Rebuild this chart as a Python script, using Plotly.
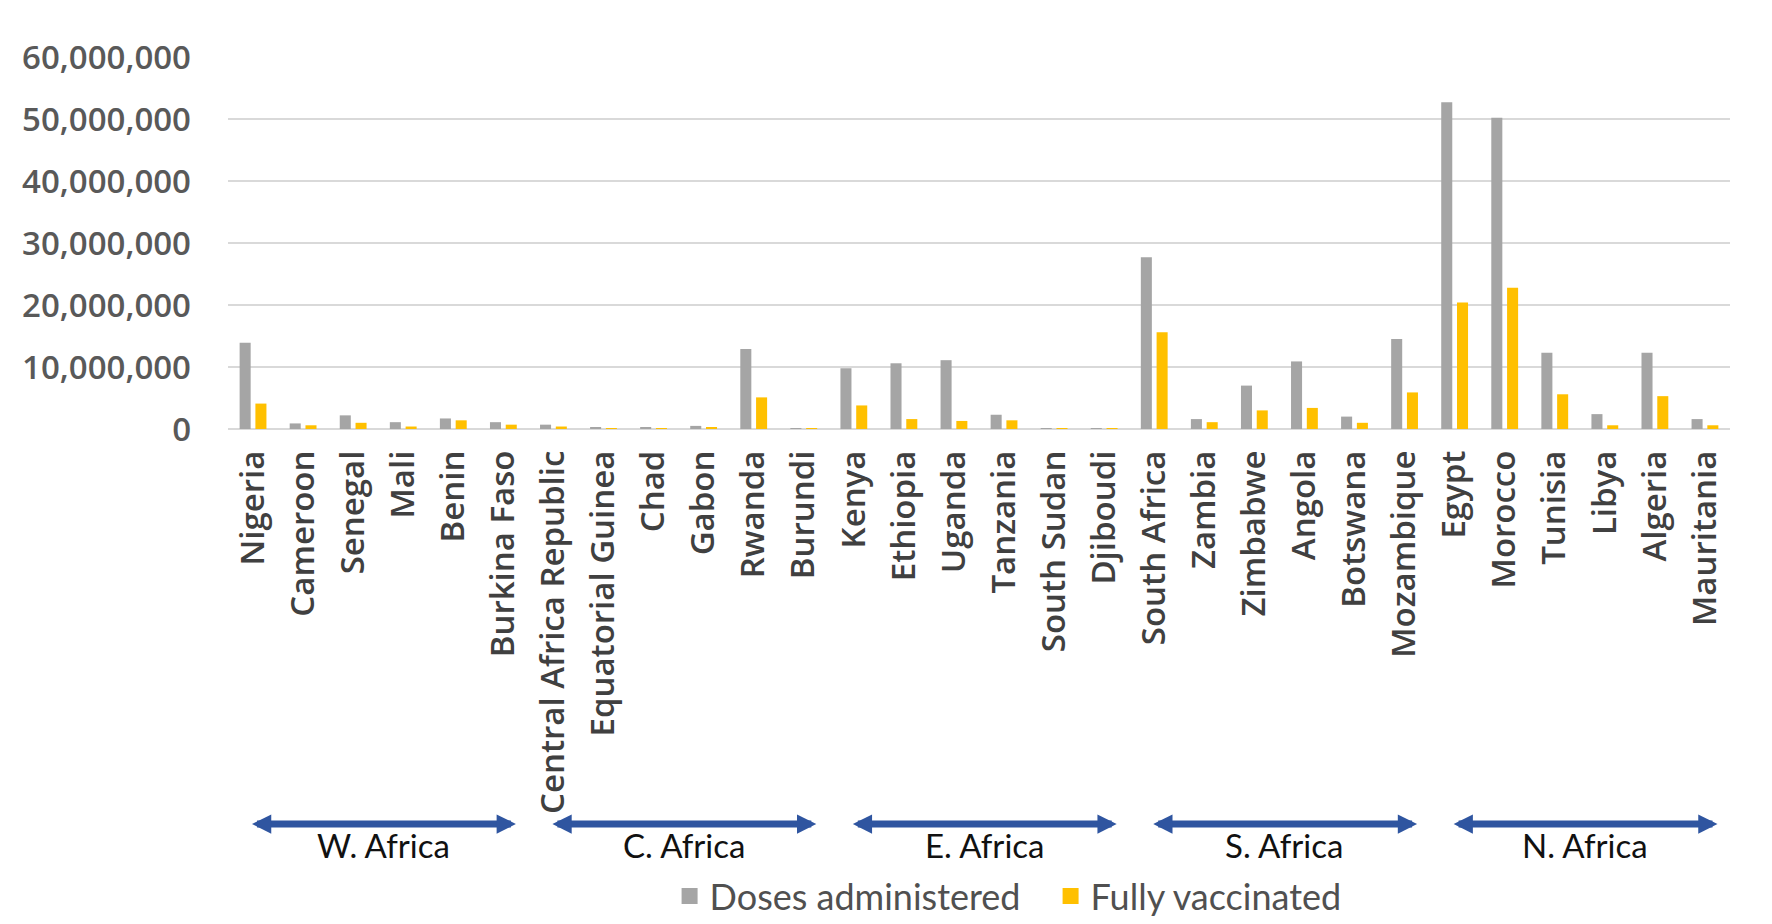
import plotly.graph_objects as go

countries = ["Nigeria", "Cameroon", "Senegal", "Mali", "Benin", "Burkina Faso",
             "Central Africa Republic", "Equatorial Guinea", "Chad", "Gabon", "Rwanda", "Burundi",
             "Kenya", "Ethiopia", "Uganda", "Tanzania", "South Sudan", "Djiboudi",
             "South Africa", "Zambia", "Zimbabwe", "Angola", "Botswana", "Mozambique",
             "Egypt", "Morocco", "Tunisia", "Libya", "Algeria", "Mauritania"]

doses = [13.9e6, 0.9e6, 2.2e6, 1.1e6, 1.7e6, 1.1e6,
         0.7e6, 0.3e6, 0.3e6, 0.5e6, 12.9e6, 0.05e6,
         9.8e6, 10.6e6, 11.1e6, 2.3e6, 0.15e6, 0.1e6,
         27.7e6, 1.6e6, 7.0e6, 10.9e6, 2.0e6, 14.5e6,
         52.7e6, 50.2e6, 12.3e6, 2.4e6, 12.3e6, 1.6e6]

fully = [4.1e6, 0.6e6, 1.0e6, 0.4e6, 1.4e6, 0.7e6,
         0.4e6, 0.1e6, 0.1e6, 0.2e6, 5.1e6, 0.02e6,
         3.8e6, 1.6e6, 1.3e6, 1.4e6, 0.05e6, 0.04e6,
         15.6e6, 1.1e6, 3.0e6, 3.4e6, 1.0e6, 5.9e6,
         20.4e6, 22.8e6, 5.6e6, 0.6e6, 5.3e6, 0.6e6]

regions = ["W. Africa", "C. Africa", "E. Africa", "S. Africa", "N. Africa"]
region_first = ["Nigeria", "Central Africa Republic", "Kenya", "South Africa", "Egypt"]
region_last = ["Burkina Faso", "Burundi", "Djiboudi", "Mozambique", "Mauritania"]

series_names = ["Doses administered", "Fully vaccinated"]
series_colors = ["#A5A5A5", "#FFC000"]

fig = go.Figure()
for name, vals, col in zip(series_names, [doses, fully], series_colors):
    fig.add_trace(go.Bar(x=countries, y=vals, name=name, showlegend=False,
                         marker=dict(color=col, line=dict(width=0))))
# legend entries with larger square swatches
for name, col in zip(series_names, series_colors):
    fig.add_trace(go.Scatter(x=[None], y=[None], mode="markers", name=name,
                             marker=dict(symbol="square", size=18, color=col)))

W, H = 1772, 924
L, R = 220, 1722
T, B = 49, 421
plot_h = B - T

def py(px):
    return (B - px) / plot_h

arrow_y = py(816)
label_y = py(837)

for reg, first, last in zip(regions, region_first, region_last):
    i0 = countries.index(first)
    i1 = countries.index(last)
    x0 = i0 - 0.05
    x1 = i1 + 0.25
    fig.add_annotation(x=x1, y=arrow_y, xref="x", yref="paper",
                       ax=x0, ay=0, axref="x", ayref="pixel",
                       showarrow=True, arrowhead=2, arrowside="end+start",
                       arrowsize=0.55, arrowwidth=7, arrowcolor="#2F55A0", text="")
    fig.add_annotation(x=(x0 + x1) / 2, y=label_y, xref="x", yref="paper",
                       text=reg, showarrow=False, yanchor="middle",
                       font=dict(family="Lato", size=33, color="#111111"))

fig.update_layout(
    width=W, height=H,
    margin=dict(l=L, r=W - R, t=T, b=H - B, pad=0, autoexpand=False),
    paper_bgcolor="white", plot_bgcolor="white",
    barmode="group", bargap=0.37, bargroupgap=0.3,
    showlegend=True,
    legend=dict(orientation="h", x=0.294, xanchor="left", y=py(888), yanchor="middle",
                font=dict(family="Lato", size=36, color="#505050"),
                itemwidth=30, traceorder="normal", entrywidth=336, entrywidthmode="pixels"),
    xaxis=dict(tickangle=-90, showgrid=False, showline=False, zeroline=False,
               ticks="", ticklabelstandoff=14,
               tickfont=dict(family="Open Sans", size=33, color="#404040", weight=600)),
    yaxis=dict(range=[0, 60e6], dtick=10e6, tickformat=",d",
               showgrid=True, gridcolor="#D9D9D9", gridwidth=2,
               zeroline=True, zerolinecolor="#D9D9D9", zerolinewidth=2,
               showline=False, ticks="", ticklabelstandoff=36,
               tickfont=dict(family="Open Sans", size=33, color="#595959", weight=600)),
)

fig.write_html("out.html")
